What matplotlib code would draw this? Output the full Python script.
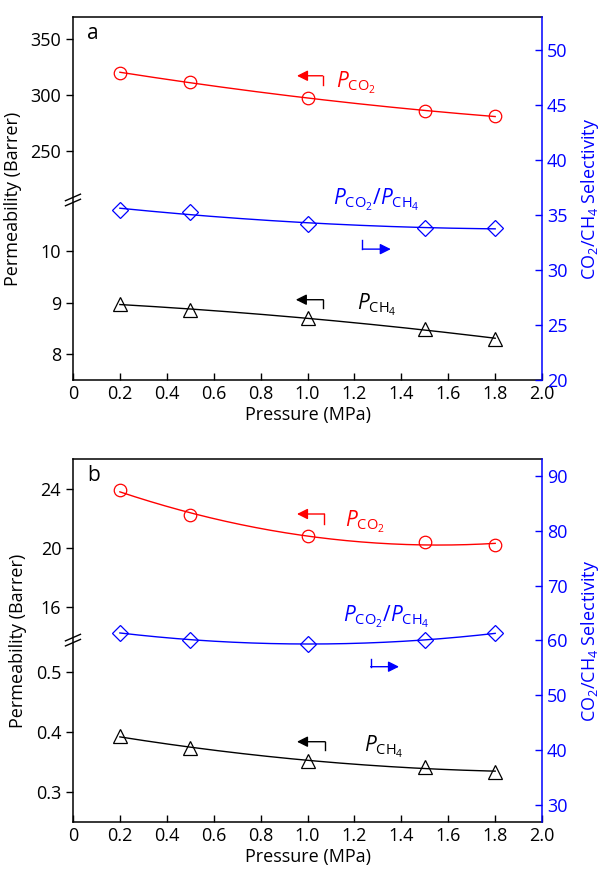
import numpy as np
import matplotlib
matplotlib.use("Agg")
from matplotlib import pyplot as plt
from matplotlib.ticker import FixedLocator, NullLocator

plt.rcParams['font.family'] = 'Open Sans'
plt.rcParams['mathtext.fontset'] = 'custom'
plt.rcParams['mathtext.rm'] = 'Open Sans'
plt.rcParams['mathtext.it'] = 'Open Sans:italic'

pressure = [0.2, 0.5, 1.0, 1.5, 1.8]

# panel a
p_co2_a = [320, 312, 297, 286, 281]
p_ch4_a = [8.98, 8.86, 8.70, 8.49, 8.30]
sel_a = [35.5, 35.25, 34.2, 33.8, 33.8]

# panel b
p_co2_b = [23.9, 22.2, 20.8, 20.4, 20.2]
p_ch4_b = [0.393, 0.373, 0.352, 0.342, 0.333]
sel_b = [61.4, 60.1, 59.4, 60.1, 61.3]

x_ticks = [0, 0.2, 0.4, 0.6, 0.8, 1.0, 1.2, 1.4, 1.6, 1.8, 2.0]
x_labels = ['0', '0.2', '0.4', '0.6', '0.8', '1.0', '1.2', '1.4', '1.6', '1.8', '2.0']


def broken_scale(lo, hi, frac):
    # lower range takes 'frac' of the height, upper range the rest
    a, b = lo
    c, d = hi
    eps = 1e-4

    def fwd(y):
        y = np.asarray(y, float)
        return np.where(y <= b, (y - a) / (b - a) * frac,
                        np.where(y >= c, frac + eps + (y - c) / (d - c) * (1 - frac - eps),
                                 frac + (y - b) / (c - b) * eps))

    def inv(t):
        t = np.asarray(t, float)
        return np.where(t <= frac, a + t / frac * (b - a),
                        np.where(t >= frac + eps, c + (t - frac - eps) / (1 - frac - eps) * (d - c),
                                 b + (t - frac) / eps * (c - b)))
    return fwd, inv


def fit_line(ax, x, y, color):
    xs = np.linspace(min(x), max(x), 200)
    coef = np.polyfit(x, y, 2)
    ax.plot(xs, np.polyval(coef, xs), color=color, lw=1.0)


def bent_arrow(ax, x_tip, x_end, y_line, y_hook, color, hook_left=False):
    # short horizontal arrow with a small vertical hook
    props = dict(arrowstyle='-|>', color=color, lw=1.0,
                 mutation_scale=16, shrinkA=0, shrinkB=0)
    if hook_left:
        ax.plot([x_tip, x_tip], [y_hook, y_line], color=color, lw=1.0)
        ax.annotate('', xy=(x_end, y_line), xytext=(x_tip, y_line), arrowprops=props)
    else:
        ax.plot([x_end, x_end], [y_line, y_hook], color=color, lw=1.0)
        ax.annotate('', xy=(x_tip, y_line), xytext=(x_end, y_line), arrowprops=props)


def panel(rect, letter, co2, ch4, sel, lo, hi, frac, lo_ticks, hi_ticks, sel_lim, sel_ticks, ann):
    ax = fig.add_axes(rect)
    fwd, inv = broken_scale(lo, hi, frac)
    ax.set_yscale('function', functions=(fwd, inv))
    ax.set_ylim(lo[0], hi[1])
    ax.yaxis.set_major_locator(FixedLocator(lo_ticks + hi_ticks))
    ax.yaxis.set_minor_locator(NullLocator())
    ax.set_yticklabels([str(t) for t in lo_ticks + hi_ticks])
    ax.set_xlim(0, 2.0)
    ax.set_xticks(x_ticks)
    ax.set_xticklabels(x_labels)

    fit_line(ax, pressure, co2, 'red')
    ax.plot(pressure, co2, 'o', mfc='none', mec='red', ms=9, mew=0.9)
    fit_line(ax, pressure, ch4, 'black')
    ax.plot(pressure, ch4, '^', mfc='none', mec='black', ms=10, mew=0.9)

    ax.tick_params(axis='y', direction='out', length=5, width=1, labelsize=13)
    ax.tick_params(axis='x', direction='in', length=5, width=1, labelsize=13)
    ax.spines['right'].set_visible(False)
    for s in ['left', 'top', 'bottom']:
        ax.spines[s].set_linewidth(1.1)
    ax.set_xlabel('Pressure (MPa)', fontsize=13, labelpad=2)
    ax.set_ylabel('Permeability (Barrer)', fontsize=13, labelpad=6)

    # break marks on the left spine
    for off in (-0.007, 0.007):
        ax.plot([-0.016, 0.016], [frac + off - 0.009, frac + off + 0.009],
                transform=ax.transAxes, color='black', lw=1, clip_on=False)

    ax.text(0.03, 0.955, letter, transform=ax.transAxes, fontsize=15, va='center')

    tw = ax.twinx()
    fit_line(tw, pressure, sel, 'blue')
    tw.plot(pressure, sel, 'D', mfc='none', mec='blue', ms=8.5, mew=0.9)
    tw.set_ylim(*sel_lim)
    tw.set_yticks(sel_ticks)
    for s in ['left', 'top', 'bottom']:
        tw.spines[s].set_visible(False)
    tw.spines['right'].set_color('blue')
    tw.spines['right'].set_linewidth(1.1)
    tw.tick_params(axis='y', direction='in', length=5, width=1, colors='blue', labelsize=13)
    tw.set_ylabel('CO$_2$/CH$_4$ Selectivity', color='blue', fontsize=13, labelpad=8)

    # annotations in selectivity coordinates
    (r_arr, r_lab), (b_arr, b_lab), (k_arr, k_lab) = ann
    bent_arrow(tw, *r_arr, color='red')
    tw.text(r_lab[0], r_lab[1], r'$P_{\mathrm{CO}_2}$', color='red', fontsize=15, va='center')
    bent_arrow(tw, *b_arr, color='blue', hook_left=True)
    tw.text(b_lab[0], b_lab[1], r'$P_{\mathrm{CO}_2}/P_{\mathrm{CH}_4}$', color='blue', fontsize=15, va='center')
    bent_arrow(tw, *k_arr, color='black')
    tw.text(k_lab[0], k_lab[1], r'$P_{\mathrm{CH}_4}$', color='black', fontsize=15, va='center')
    return ax, tw


fig = plt.figure(figsize=(6.03, 8.69), dpi=100)

panel([0.121, 0.5627, 0.778, 0.4177], 'a', p_co2_a, p_ch4_a, sel_a,
      (7.5, 11), (206, 370), 0.496, [8, 9, 10], [250, 300, 350],
      (20, 53), [20, 25, 30, 35, 40, 45, 50],
      [((0.955, 1.064, 47.66, 46.82), (1.12, 47.0)),
       ((1.234, 1.355, 31.9, 32.73), (1.11, 36.4)),
       ((0.95, 1.067, 27.3, 26.57), (1.21, 26.8))])

panel([0.121, 0.0541, 0.778, 0.4177], 'b', p_co2_b, p_ch4_b, sel_b,
      (0.25, 0.553), (13.8, 26), 0.501, [0.3, 0.4, 0.5], [16, 20, 24],
      (26.9, 93.1), [30, 40, 50, 60, 70, 80, 90],
      [((0.955, 1.072, 83.07, 81.19), (1.16, 81.6)),
       ((1.269, 1.39, 55.22, 56.62), (1.15, 64.3)),
       ((0.955, 1.075, 41.54, 40.03), (1.24, 40.6))])

plt.savefig('out.png', dpi=100)
